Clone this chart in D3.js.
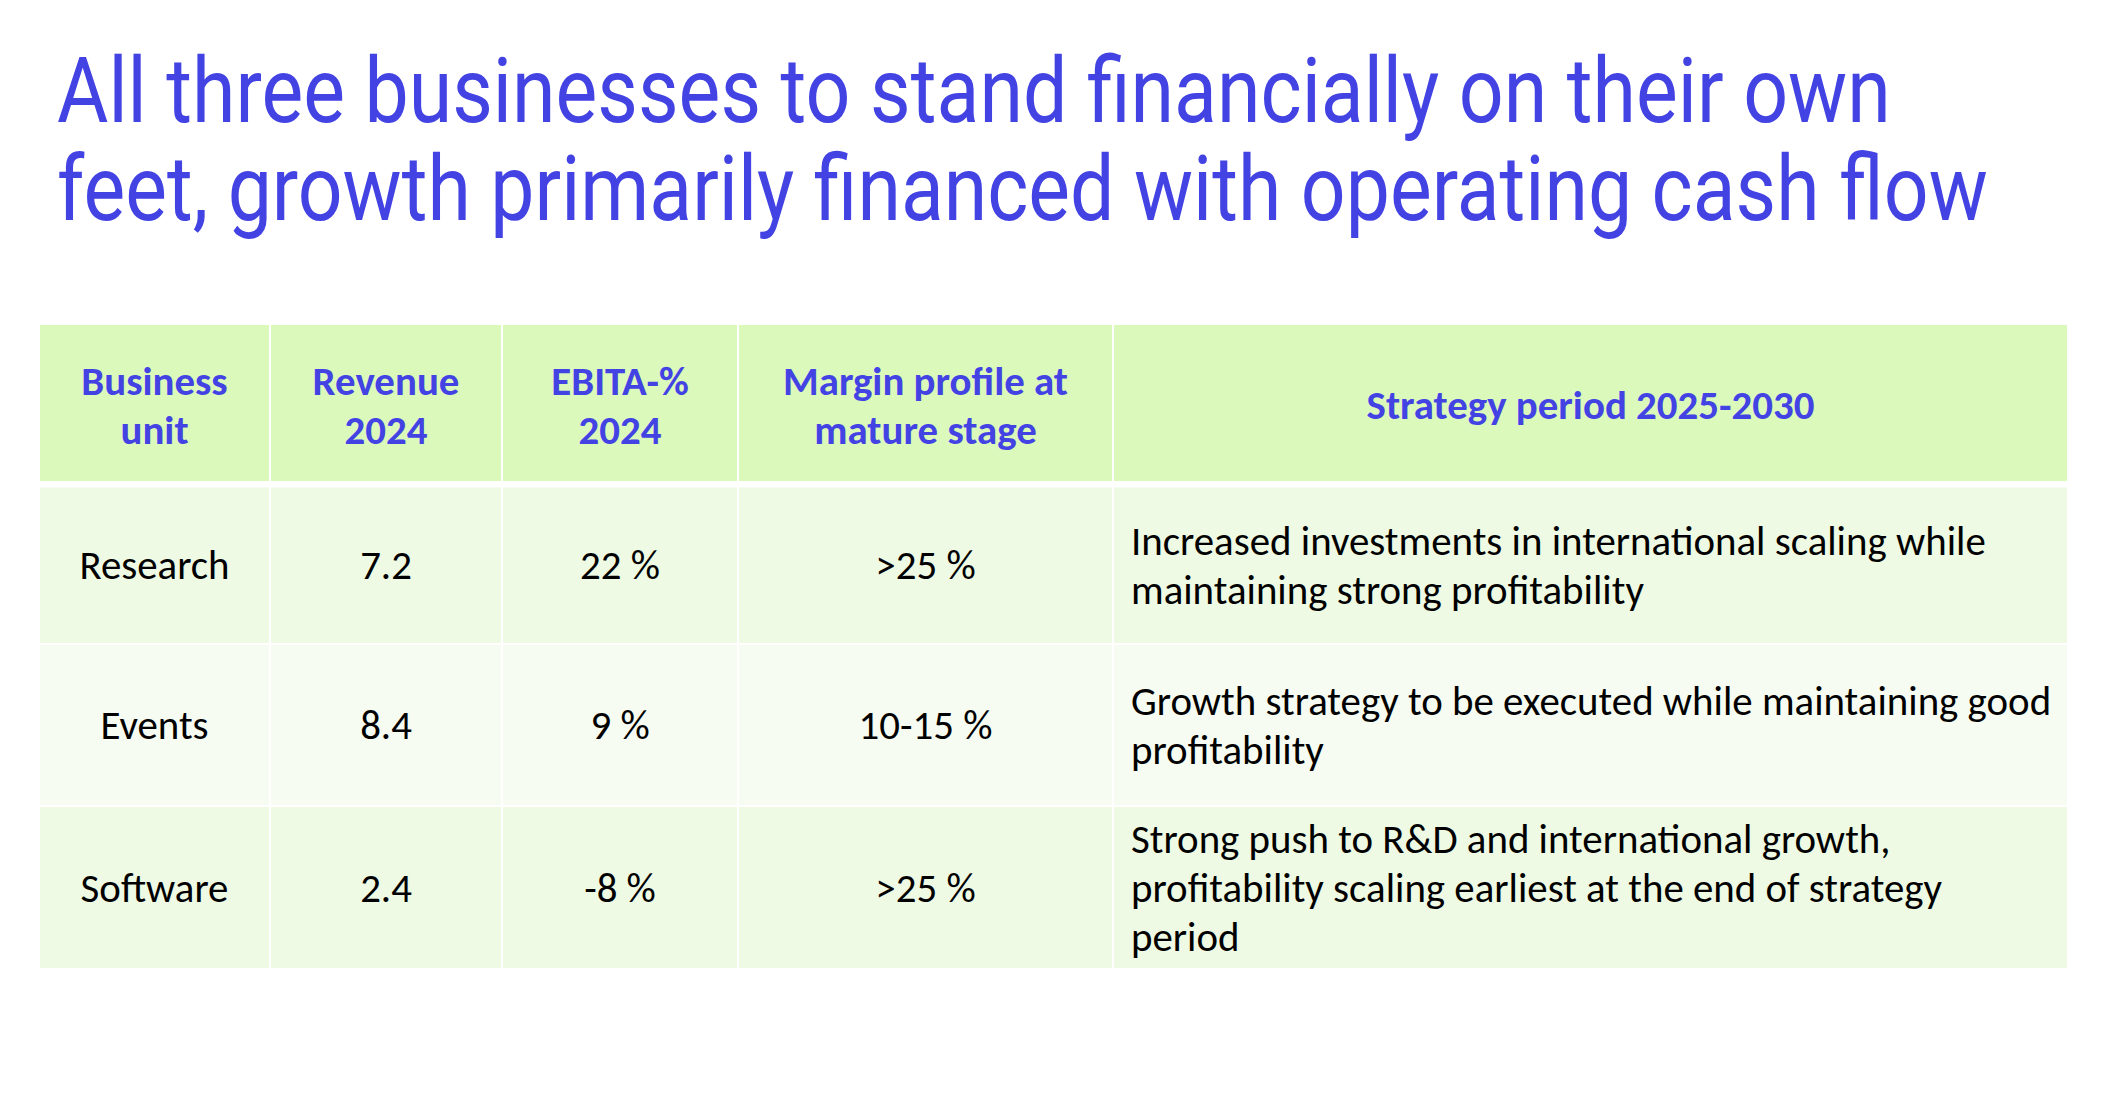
<!DOCTYPE html>
<html>
<head>
<meta charset="utf-8">
<script src="https://cdn.jsdelivr.net/npm/d3@7"></script>
<style>
  html, body { margin: 0; padding: 0; background: #ffffff; }
  svg { display: block; }
</style>
</head>
<body>
<svg id="chart" width="2118" height="1099"></svg>
<script>
// ---- data ----
const titleLines = [
  "All three businesses to stand financially on their own",
  "feet, growth primarily financed with operating cash flow"
];
const headers = [
  ["Business", "unit"],
  ["Revenue", "2024"],
  ["EBITA-%", "2024"],
  ["Margin profile at", "mature stage"],
  ["Strategy period 2025-2030"]
];
const units = ["Research", "Events", "Software"];
const revenue2024 = [7.2, 8.4, 2.4];
const ebita2024 = [22, 9, -8];
const matureMargin = [">25 %", "10-15 %", ">25 %"];
const strategy = [
  ["Increased investments in international scaling while", "maintaining strong profitability"],
  ["Growth strategy to be executed while maintaining good", "profitability"],
  ["Strong push to R&D and international growth,", "profitability scaling earliest at the end of strategy", "period"]
];

// ---- layout ----
const svg = d3.select("#chart");
const colEdges = [40, 271, 503, 739, 1114, 2067];
const colGap = 2;
const headerTop = 325, headerBottom = 481;
const rowTops = [487.5, 645, 807];
const rowBottoms = [643, 805, 968];
const fontBody = "Carlito, Calibri, Lato, 'Open Sans', sans-serif";
const titleFont = "'Liberation Sans Narrow', Roboto, 'Liberation Sans', sans-serif";
const blue = "#4343E4";
const headerFill = "#DCF9BC";
const rowFills = ["#EEFAE3", "#F6FCF1", "#EEFAE3"];
const fs = 40, lh = 49, baseOff = 14, headOff = 16;

const x = d3.scaleOrdinal().domain(d3.range(5)).range(colEdges.slice(0, 5));
const xr = d3.scaleOrdinal().domain(d3.range(5)).range(colEdges.slice(1).map((e, i) => i < 4 ? e - colGap : e));

// ---- title (condensed horizontally to the reference widths) ----
const titleW = [1834, 1931];
svg.append("g").selectAll("text").data(titleLines).join("text")
  .attr("x", 0)
  .attr("y", 0)
  .attr("font-family", titleFont)
  .attr("font-size", 91)
  .attr("fill", blue)
  .text(d => d)
  .each(function (d, i) {
    const w = this.getComputedTextLength();
    d3.select(this).attr("transform", `translate(57,${122 + i * 98}) scale(${titleW[i] / w},1)`);
  });

// width calibration for Calibri-like text
function measure(str, weight) {
  const t = svg.append("text").attr("font-family", fontBody).attr("font-size", fs)
    .attr("font-weight", weight).text(str);
  const w = t.node().getComputedTextLength();
  t.remove();
  return w;
}
const kReg = 855 / measure(strategy[0][0], 400);
const kBold = 448 / measure(headers[4][0], 700);

// ---- cells ----
const table = svg.append("g");
const rows = [{ top: headerTop, bottom: headerBottom, fill: headerFill, header: true }]
  .concat(units.map((u, i) => ({ top: rowTops[i], bottom: rowBottoms[i], fill: rowFills[i], header: false, i })));

rows.forEach(r => {
  table.append("g").selectAll("rect").data(d3.range(5)).join("rect")
    .attr("x", c => x(c))
    .attr("y", r.top)
    .attr("width", c => xr(c) - x(c))
    .attr("height", r.bottom - r.top)
    .attr("fill", r.fill);
});

function cellLines(r, c) {
  if (r.header) return headers[c];
  const i = r.i;
  if (c === 0) return [units[i]];
  if (c === 1) return [d3.format(".1f")(revenue2024[i])];
  if (c === 2) return [ebita2024[i] + " %"];
  if (c === 3) return [matureMargin[i]];
  return strategy[i];
}

rows.forEach(r => {
  const cy = (r.top + r.bottom) / 2;
  d3.range(5).forEach(c => {
    const lines = cellLines(r, c);
    const left = !r.header && c === 4;
    const weight = r.header ? 700 : 400;
    const k = r.header ? kBold : kReg;
    const off = r.header ? headOff : baseOff;
    const tx = left ? x(c) + 17 : (x(c) + xr(c)) / 2;
    table.append("g").selectAll("text").data(lines).join("text")
      .attr("x", 0)
      .attr("y", 0)
      .attr("transform", (d, j) => `translate(${tx},${cy + off + (j - (lines.length - 1) / 2) * lh}) scale(${k},1)`)
      .attr("text-anchor", left ? "start" : "middle")
      .attr("font-family", fontBody)
      .attr("font-size", fs)
      .attr("font-weight", weight)
      .attr("fill", r.header ? blue : "#000000")
      .text(d => d);
  });
});
</script>
</body>
</html>
